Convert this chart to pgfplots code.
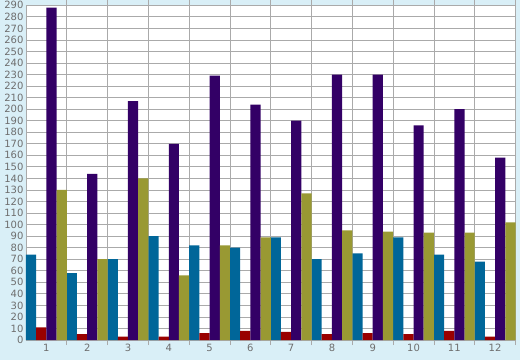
\documentclass[border=0pt]{standalone}
\usepackage{pgfplots}
\pgfplotsset{compat=1.18}
\usepackage{fontspec}
\setmainfont{DejaVu Sans}
\definecolor{bg}{HTML}{D9EFF7}
\definecolor{gridc}{HTML}{AAAAAA}
\definecolor{lab}{HTML}{6E6E6E}
\definecolor{sA}{HTML}{006699}
\definecolor{sB}{HTML}{990000}
\definecolor{sC}{HTML}{330066}
\definecolor{sD}{HTML}{999933}
\begin{document}
\begin{tikzpicture}[x=1pt,y=1pt]
\fill[bg] (-26,-20) rectangle (494,340);
\useasboundingbox (-26,-20) rectangle (494,340);
\begin{axis}[
  at={(0,0)}, anchor=south west,
  scale only axis, width=489.5pt, height=334.7pt,
  xmin=0.5, xmax=12.5, ymin=0, ymax=290,
  ybar=0pt, bar width=10.2pt,
  axis background/.style={fill=white},
  axis line style={gridc, line width=0.8pt},
  xtick={1,...,12},
  minor xtick={1.5,2.5,...,12.5},
  ytick={0,10,...,290},
  major tick length=0pt,
  minor tick length=5pt,
  tick align=outside,
  minor tick style={gridc, line width=0.8pt},
  minor x grid style={gridc, line width=0.8pt},
  major grid style={gridc, line width=0.8pt},
  xminorgrids=true, ymajorgrids=true,
  x tick label style={yshift=-1pt},
  y tick label style={xshift=1pt},
  tick label style={font=\fontsize{10}{12}\selectfont, text=lab},
  /pgf/number format/assume math mode=true,
  axis on top=false,
  clip=false,
]
\addplot[fill=sA, draw=none] coordinates {(1,74) (2,58) (3,70) (4,90) (5,82) (6,80) (7,89) (8,70) (9,75) (10,89) (11,74) (12,68)};
\addplot[fill=sB, draw=none] coordinates {(1,11) (2,5) (3,3) (4,3) (5,6) (6,8) (7,7) (8,5) (9,6) (10,5) (11,8) (12,3)};
\addplot[fill=sC, draw=none] coordinates {(1,288) (2,144) (3,207) (4,170) (5,229) (6,204) (7,190) (8,230) (9,230) (10,186) (11,200) (12,158)};
\addplot[fill=sD, draw=none] coordinates {(1,130) (2,70) (3,140) (4,56) (5,82) (6,89) (7,127) (8,95) (9,94) (10,93) (11,93) (12,102)};
\end{axis}
\end{tikzpicture}
\end{document}
